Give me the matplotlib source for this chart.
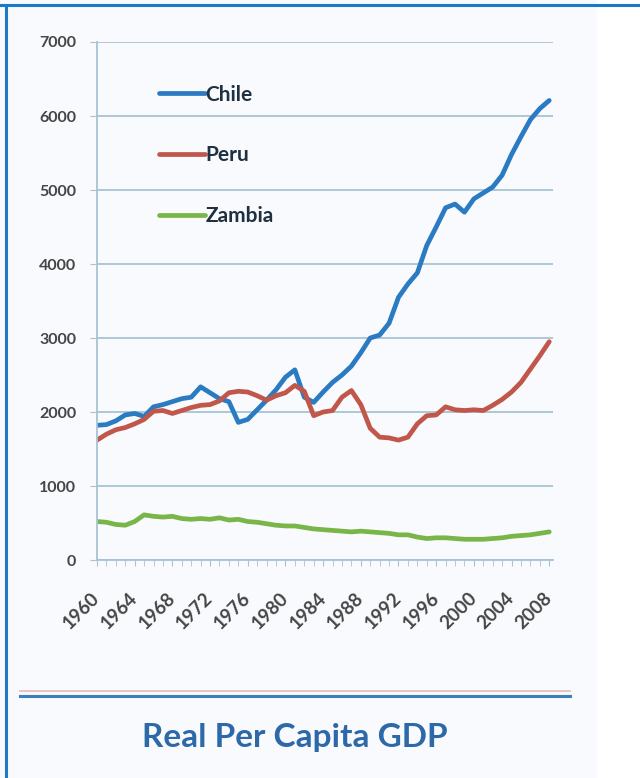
import numpy as np
import matplotlib
matplotlib.use("Agg")
import matplotlib.pyplot as plt
from matplotlib.lines import Line2D
from matplotlib.patches import Rectangle

# Real per capita GDP
years = np.arange(1960, 2009)
chile = [1820, 1830, 1880, 1960, 1980, 1940, 2070, 2100, 2140, 2180,
         2200, 2340, 2260, 2180, 2140, 1860, 1900, 2030, 2160, 2300,
         2470, 2570, 2200, 2130, 2270, 2400, 2500, 2620, 2800, 3000,
         3040, 3200, 3550, 3730, 3880, 4250, 4500, 4760, 4810, 4700,
         4880, 4960, 5040, 5200, 5480, 5720, 5950, 6100, 6210]
peru = [1620, 1700, 1760, 1790, 1840, 1900, 2010, 2020, 1980, 2020,
        2060, 2090, 2100, 2150, 2260, 2280, 2270, 2220, 2160, 2220,
        2260, 2360, 2280, 1950, 2000, 2020, 2200, 2290, 2100, 1780,
        1660, 1650, 1620, 1660, 1840, 1950, 1960, 2070, 2030, 2020,
        2030, 2020, 2090, 2170, 2270, 2400, 2580, 2760, 2950]
zambia = [520, 510, 480, 470, 520, 610, 590, 580, 590, 560,
          550, 560, 550, 570, 540, 550, 520, 510, 490, 470,
          460, 460, 440, 420, 410, 400, 390, 380, 390, 380,
          370, 360, 340, 340, 310, 290, 300, 300, 290, 280,
          280, 280, 290, 300, 320, 330, 340, 360, 380]
labels = ["Chile", "Peru", "Zambia"]
colors = ["#2a7bc2", "#c0574a", "#79b548"]
yticks = np.arange(0, 7001, 1000)

W, H = 640, 778
fig = plt.figure(figsize=(W / 100, H / 100), dpi=100, facecolor="#f8fafd")
fig.patches.append(Rectangle((597 / W, 0), 1, 1, transform=fig.transFigure,
                             facecolor="white", edgecolor="none", zorder=0))

ax = fig.add_axes([97 / W, 1 - 560 / H, (553 - 97) / W, (560 - 42) / H])
ax.set_facecolor("none")

for vals, lab, c in zip([chile, peru, zambia], labels, colors):
    ax.plot(years, vals, color=c, lw=3.4, label=lab, solid_capstyle="round",
            solid_joinstyle="round")

gridc = "#a8c3d4"
ax.set_ylim(0, 7000)
ax.set_xlim(1960, 2008.4)
ax.set_yticks(yticks)
ax.grid(axis="y", color=gridc, lw=1.3)
ax.set_axisbelow(True)
for s in ["top", "right"]:
    ax.spines[s].set_visible(False)
ax.spines["left"].set_color(gridc)
ax.spines["bottom"].set_color(gridc)
ax.spines["left"].set_linewidth(1.3)
ax.spines["bottom"].set_linewidth(1.3)

ax.set_xticks(years[::4])
ax.set_xticks(years, minor=True)
ax.tick_params(axis="y", length=5, color=gridc, pad=10, labelsize=11.5,
               labelcolor="#454545")
ax.tick_params(axis="x", which="both", length=4.5, color=gridc,
               labelsize=13.5, labelcolor="#454545", pad=21)
for t in ax.get_yticklabels():
    t.set_fontfamily("Lato")
    t.set_fontweight("bold")
for t in ax.get_xticklabels():
    t.set_fontfamily("Lato")
    t.set_fontweight("bold")
    t.set_rotation(45)
    t.set_ha("right")
    t.set_va("center")
    t.set_rotation_mode("anchor")

leg = ax.legend(loc="upper left", bbox_to_anchor=(140 / W, 1 - 66 / H),
                bbox_transform=fig.transFigure, frameon=False,
                prop={"family": "Lato", "weight": "bold", "size": 15},
                labelspacing=1.95, handlelength=2.2, handletextpad=0.05)
for t in leg.get_texts():
    t.set_color("#1f3040")

# slide frame, top and left
fig.add_artist(Line2D([0, 1], [1 - 4.5 / H, 1 - 4.5 / H], color="#1a7ac6",
                      lw=2.2, transform=fig.transFigure))
fig.add_artist(Line2D([5.5 / W, 5.5 / W], [0, 1 - 4.5 / H], color="#1a7ac6",
                      lw=2.2, transform=fig.transFigure))

# double rule above the title
fig.add_artist(Line2D([20 / W, 570 / W], [1 - 691 / H, 1 - 691 / H],
                      color="#e7b8b8", lw=1.2, transform=fig.transFigure))
fig.add_artist(Line2D([20 / W, 570 / W], [1 - 695.5 / H, 1 - 695.5 / H],
                      color="#3b7fbf", lw=2.2, transform=fig.transFigure))

fig.text(295 / W, 1 - 738 / H, "Real Per Capita GDP", ha="center", va="center",
         fontsize=24, fontweight="bold", family="Lato", color="#2d69a8")

fig.savefig("out.png", dpi=100, facecolor=fig.get_facecolor())
